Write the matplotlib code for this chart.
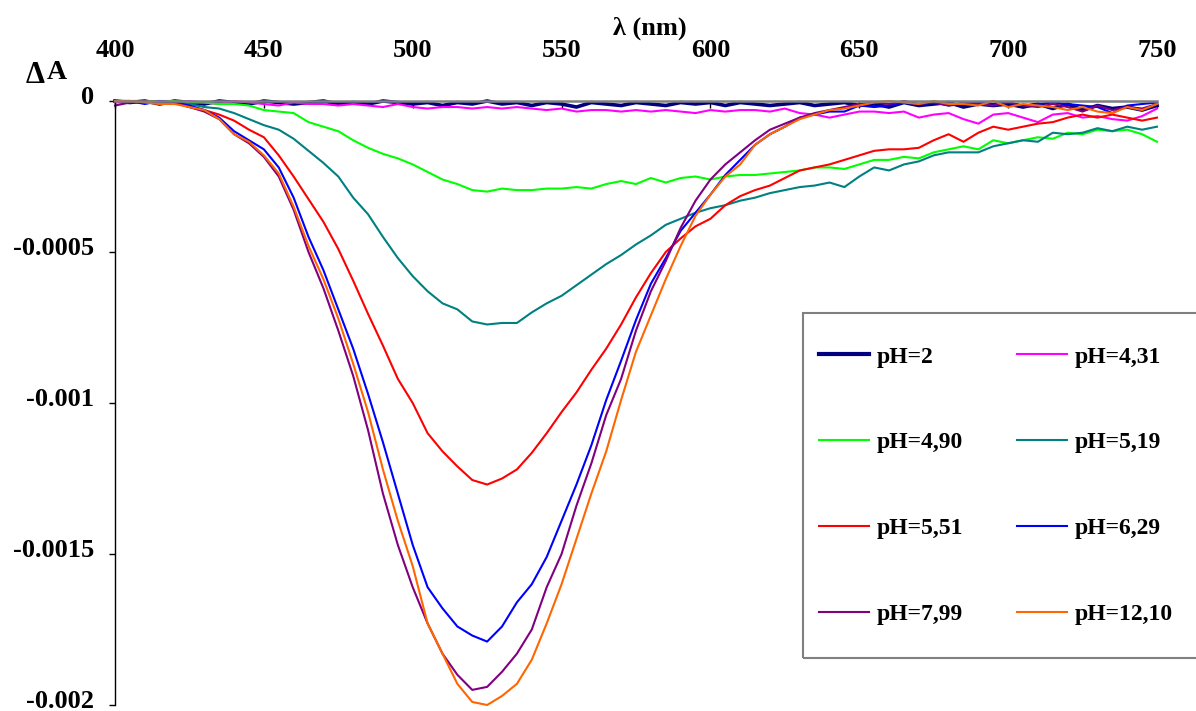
import numpy as np
import matplotlib
matplotlib.use("Agg")
from matplotlib import pyplot as plt
from matplotlib.patches import Rectangle
from matplotlib.transforms import ScaledTranslation

# wavelength grid (nm) and delta-absorbance readings, in units of 1e-4
wavelength = np.arange(400, 751, 5)

dA_ph2 = [0, -0.05, 0, -0.1, 0, -0.05, -0.1, 0, -0.05, -0.1,
          0, -0.05, -0.1, -0.05, 0, -0.1, -0.05, -0.1, 0, -0.05,
          -0.1, -0.05, -0.15, -0.05, -0.1, 0, -0.1, -0.05, -0.15, -0.05,
          -0.1, -0.2, -0.05, -0.1, -0.15, -0.05, -0.1, -0.15, -0.05, -0.1,
          -0.05, -0.15, -0.05, -0.1, -0.15, -0.1, -0.05, -0.15, -0.1, -0.05,
          -0.15, -0.1, -0.2, -0.05, -0.15, -0.1, -0.05, -0.2, -0.1, -0.15,
          -0.1, -0.2, -0.1, -0.25, -0.1, -0.3, -0.15, -0.25, -0.2, -0.3,
          -0.15]
dA_ph431 = [-0.05, 0, -0.05, 0, -0.05, 0, -0.05, -0.1, 0, -0.05,
            -0.1, -0.15, -0.05, -0.1, -0.1, -0.15, -0.1, -0.15, -0.2, -0.1,
            -0.2, -0.25, -0.2, -0.2, -0.25, -0.2, -0.25, -0.2, -0.25, -0.3,
            -0.25, -0.35, -0.3, -0.3, -0.35, -0.3, -0.35, -0.3, -0.35, -0.4,
            -0.3, -0.35, -0.3, -0.3, -0.35, -0.25, -0.4, -0.45, -0.55, -0.45,
            -0.35, -0.35, -0.4, -0.35, -0.55, -0.45, -0.4, -0.6, -0.75, -0.45,
            -0.4, -0.55, -0.7, -0.45, -0.4, -0.55, -0.5, -0.6, -0.65, -0.5,
            -0.25]
dA_ph490 = [0, 0, 0, 0, 0, -0.05, -0.05, -0.1, -0.1, -0.15,
            -0.3, -0.35, -0.4, -0.7, -0.85, -1.0, -1.3, -1.55, -1.75, -1.9,
            -2.1, -2.35, -2.6, -2.75, -2.95, -3.0, -2.9, -2.95, -2.95, -2.9,
            -2.9, -2.85, -2.9, -2.75, -2.65, -2.75, -2.55, -2.7, -2.55, -2.5,
            -2.6, -2.5, -2.45, -2.45, -2.4, -2.35, -2.3, -2.2, -2.2, -2.25,
            -2.1, -1.95, -1.95, -1.85, -1.9, -1.7, -1.6, -1.5, -1.6, -1.3,
            -1.4, -1.3, -1.2, -1.25, -1.05, -1.1, -0.95, -1.0, -0.95, -1.1,
            -1.35]
dA_ph519 = [0, 0, 0, -0.05, -0.05, -0.1, -0.2, -0.25, -0.4, -0.6,
            -0.8, -0.95, -1.25, -1.65, -2.05, -2.5, -3.2, -3.75, -4.5, -5.2,
            -5.8, -6.3, -6.7, -6.9, -7.3, -7.4, -7.35, -7.35, -7.0, -6.7,
            -6.45, -6.1, -5.75, -5.4, -5.1, -4.75, -4.45, -4.1, -3.9, -3.7,
            -3.55, -3.45, -3.3, -3.2, -3.05, -2.95, -2.85, -2.8, -2.7, -2.85,
            -2.5, -2.2, -2.3, -2.1, -2.0, -1.8, -1.7, -1.7, -1.7, -1.5,
            -1.4, -1.3, -1.35, -1.05, -1.1, -1.05, -0.9, -1.0, -0.85, -0.95,
            -0.85]
dA_ph551 = [0, 0, -0.05, 0, -0.05, -0.2, -0.3, -0.45, -0.65, -0.95,
            -1.2, -1.8, -2.5, -3.25, -4.0, -4.9, -5.95, -7.05, -8.1, -9.2,
            -10.0, -11.0, -11.6, -12.1, -12.55, -12.7, -12.5, -12.2, -11.65, -11.0,
            -10.3, -9.65, -8.9, -8.2, -7.4, -6.5, -5.7, -5.0, -4.55, -4.15,
            -3.9, -3.45, -3.15, -2.95, -2.8, -2.55, -2.3, -2.2, -2.1, -1.95,
            -1.8, -1.65, -1.6, -1.6, -1.55, -1.3, -1.1, -1.35, -1.05, -0.85,
            -0.95, -0.85, -0.75, -0.7, -0.55, -0.45, -0.55, -0.45, -0.55, -0.65,
            -0.55]
dA_ph629 = [0, 0, -0.1, 0, -0.05, -0.15, -0.3, -0.55, -1.0, -1.3,
            -1.6, -2.2, -3.2, -4.5, -5.6, -6.9, -8.2, -9.7, -11.3, -13.0,
            -14.7, -16.1, -16.8, -17.4, -17.7, -17.9, -17.4, -16.6, -16.0, -15.1,
            -13.9, -12.7, -11.4, -9.9, -8.6, -7.25, -6.05, -5.2, -4.3, -3.7,
            -3.1, -2.45, -1.95, -1.45, -1.1, -0.85, -0.55, -0.45, -0.35, -0.35,
            -0.15, -0.2, -0.15, -0.05, -0.1, -0.05, -0.15, -0.1, -0.05, -0.1,
            -0.05, -0.15, -0.1, -0.05, -0.1, -0.15, -0.2, -0.4, -0.15, -0.1,
            -0.05]
dA_ph799 = [-0.15, -0.05, 0, -0.1, -0.05, -0.2, -0.35, -0.6, -1.1, -1.4,
            -1.85, -2.5, -3.6, -5.0, -6.2, -7.6, -9.1, -10.9, -13.0, -14.7,
            -16.1, -17.3, -18.3, -19.0, -19.5, -19.4, -18.9, -18.3, -17.5, -16.1,
            -15.0, -13.4, -12.0, -10.4, -9.2, -7.6, -6.3, -5.3, -4.2, -3.3,
            -2.6, -2.1, -1.7, -1.3, -0.95, -0.75, -0.55, -0.4, -0.3, -0.2,
            -0.1, -0.05, -0.1, 0, -0.1, -0.05, -0.15, -0.05, -0.1, -0.15,
            -0.05, -0.15, -0.2, -0.1, -0.2, -0.35, -0.15, -0.3, -0.2, -0.25,
            -0.1]
dA_ph1210 = [0, 0, -0.05, -0.1, -0.1, -0.2, -0.3, -0.6, -1.1, -1.35,
             -1.8, -2.4, -3.5, -4.8, -5.9, -7.2, -8.7, -10.3, -12.2, -13.9,
             -15.4, -17.3, -18.3, -19.3, -19.9, -20.0, -19.7, -19.3, -18.5, -17.3,
             -16.0, -14.5, -13.0, -11.6, -9.9, -8.3, -7.1, -5.9, -4.8, -3.8,
             -3.1, -2.5, -2.1, -1.45, -1.1, -0.85, -0.6, -0.45, -0.3, -0.25,
             -0.15, -0.05, 0, -0.05, -0.1, 0, -0.1, -0.1, -0.15, 0,
             -0.2, -0.1, -0.15, -0.2, -0.3, -0.2, -0.35, -0.4, -0.2, -0.3,
             -0.1]

labels = ['pH=2', 'pH=4,31', 'pH=4,90', 'pH=5,19',
          'pH=5,51', 'pH=6,29', 'pH=7,99', 'pH=12,10']
series = [dA_ph2, dA_ph431, dA_ph490, dA_ph519,
          dA_ph551, dA_ph629, dA_ph799, dA_ph1210]
colors = ['#000080', '#FF00FF', '#00FF00', '#008080',
          '#FF0000', '#0000FF', '#800080', '#FF6600']

xticks = [400, 450, 500, 550, 600, 650, 700, 750]
yticks = [-0.002, -0.0015, -0.001, -0.0005, 0]
ytick_labels = ['-0.002', '-0.0015', '-0.001', '-0.0005', '0']

W, H = 1196, 711
font = 'Liberation Serif'

fig = plt.figure(figsize=(W / 100, H / 100), dpi=100)
ax = fig.add_axes([115 / W, 1 - 705 / H, (1157 - 115) / W, (705 - 101) / H])

for lab, vals, col in zip(labels, series, colors):
    lw = 2.6 if lab == 'pH=2' else 1.5
    ax.plot(wavelength, np.array(vals) * 1e-4, color=col, lw=lw,
            label=lab, clip_on=False)

ax.set_xlim(400, 750)
ax.set_ylim(-0.002, 0)

for s in ['bottom', 'right']:
    ax.spines[s].set_visible(False)
ax.spines['top'].set_color('#808080')
ax.spines['top'].set_linewidth(1.8)
ax.spines['top'].set_zorder(5)
ax.spines['left'].set_color('black')
ax.spines['left'].set_linewidth(1.0)

ax.xaxis.set_ticks_position('top')
ax.set_xticks(xticks)
ax.set_xticklabels([str(t) for t in xticks], fontfamily=font,
                   fontweight='bold', fontsize=19)
ax.tick_params(axis='x', direction='in', length=5, width=1, color='black',
               pad=28)

ax.set_yticks(yticks)
ax.set_yticklabels(ytick_labels, fontfamily=font, fontweight='bold',
                   fontsize=19)
ax.tick_params(axis='y', direction='out', length=4, width=1, color='black',
               pad=11)
# the original sits its value labels a few pixels above each tick
shift = ScaledTranslation(0, 6 / 100, fig.dpi_scale_trans)
for t in ax.get_yticklabels():
    t.set_transform(t.get_transform() + shift)

# axis titles
fig.text(650 / W, 1 - 28 / H, 'λ (nm)', ha='center', va='center',
         fontfamily=font, fontweight='bold', fontsize=19)
fig.text(26 / W, 1 - 83 / H, 'Δ', ha='left', va='baseline',
         fontfamily=font, fontweight='bold', fontsize=22)
fig.text(47 / W, 1 - 79 / H, 'A', ha='left', va='baseline',
         fontfamily=font, fontweight='bold', fontsize=20)

# legend, filled row by row like the original
order = [0, 2, 4, 6, 1, 3, 5, 7]
leg_handles = []
for i in order:
    h = plt.Line2D([], [], color=colors[i], lw=3.0 if i == 0 else 1.5)
    leg_handles.append(h)
ax.legend(leg_handles, [labels[i] for i in order], ncol=2,
          loc='upper left', bbox_to_anchor=(819 / W, 1 - 346 / H),
          bbox_transform=fig.transFigure, frameon=False,
          borderpad=0, borderaxespad=0, handlelength=2.1,
          handletextpad=0.34, columnspacing=2.3, labelspacing=2.72,
          prop={'family': font, 'weight': 'bold', 'size': 17})

fig.patches.append(Rectangle((803 / W, 1 - 658 / H), 0.4, 345 / H,
                             transform=fig.transFigure, fill=False,
                             edgecolor='#808080', lw=1.5))

fig.savefig('out.png', dpi=100)
